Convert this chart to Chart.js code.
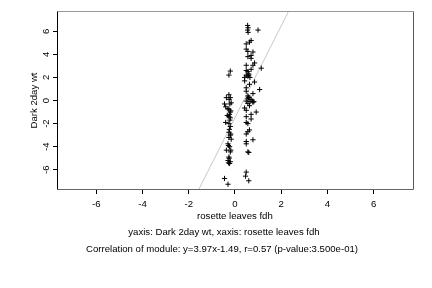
<!DOCTYPE html>
<html><head><meta charset="utf-8">
<script src="https://cdn.jsdelivr.net/npm/chart.js@4/dist/chart.umd.min.js"></script>
<style>html,body{margin:0;padding:0;background:#fff}#wrap{width:432px;height:288px}</style>
</head><body><div id="wrap"><canvas id="c" width="432" height="288"></canvas></div>
<script>
const xTicks = [-6, -4, -2, 0, 2, 4, 6];
const yTicks = [-6, -4, -2, 0, 2, 4, 6];
const xVals = [0.55,0.57,0.55,0.57,1.0,0.7,0.63,0.49,0.49,0.56,0.78,0.7,0.56,0.7,0.85,0.78,0.49,1.14,0.7,0.49,0.56,0.6,0.49,0.56,0.42,0.6,0.65,0.42,0.85,0.63,0.49,1.07,0.49,0.78,0.56,0.6,0.56,0.7,0.49,0.78,0.65,0.56,0.63,0.42,0.49,0.92,0.7,0.49,0.7,0.49,0.56,0.63,0.56,0.49,0.78,0.49,0.49,0.56,0.6,0.49,0.46,0.6,0.75,0.82,0.6,
 -0.2,-0.26,-0.26,-0.37,-0.2,-0.25,-0.16,-0.22,-0.4,-0.26,-0.2,-0.24,-0.26,-0.2,-0.22,-0.4,-0.26,-0.2,-0.24,-0.26,-0.2,-0.26,-0.16,-0.3,-0.23,-0.37,-0.2,-0.26,-0.3,-0.23,-0.2,-0.28,-0.45,-0.3,-0.18,-0.3,-0.18,-0.28,-0.18,-0.25,-0.33,-0.45];
const yVals = [6.5,6.3,6.1,5.9,6.1,5.2,5.05,4.9,4.45,4.25,4.2,3.9,3.8,3.65,3.25,3.05,3.05,2.8,2.7,2.6,2.5,2.3,2.2,2.1,2.0,2.2,2.0,1.7,1.6,1.4,1.1,0.95,0.8,0.6,0.4,0.25,0.15,0.1,-0.05,-0.15,-0.1,-0.25,-0.45,-0.65,-0.85,-1.0,-1.2,-1.4,-1.6,-1.9,-2.0,-2.55,-2.7,-2.9,-3.4,-3.55,-3.75,-4.45,-4.5,-6.2,-6.55,-6.95,-0.05,-0.1,0.3,
 2.55,2.2,0.5,0.25,0.25,0.1,-0.2,-0.3,-0.55,-0.8,-1.0,-1.2,-1.4,-1.5,-1.7,-1.9,-2.0,-2.25,-2.5,-2.75,-3.0,-3.2,-3.35,-3.75,-4.0,-4.3,-4.45,-4.9,-5.2,-5.45,-5.3,-5.4,-6.75,-7.25,-0.9,-0.7,-2.9,-3.9,-4.3,-5.0,-1.3,-0.3];
const slope = 3.97, intercept = -1.49;
const xRange = [-7.7, 7.75], yRange = [-7.75, 7.75];
const xLabel = 'rosette leaves fdh';
const yLabel = 'Dark 2day wt';
const caption1 = 'yaxis: Dark 2day wt, xaxis: rosette leaves fdh';
const caption2 = 'Correlation of module: y=3.97x-1.49, r=0.57 (p-value:3.500e-01)';

const pts = xVals.map((x, i) => ({x, y: yVals[i]}));
const linePts = xRange.map(x => ({x, y: slope * x + intercept}));
const FAM = '"Liberation Sans", Arial, sans-serif';
const FONT = '9.6px ' + FAM;

const deco = {
  id: 'deco',
  afterDraw(chart) {
    const ctx = chart.ctx, a = chart.chartArea, ys = chart.scales.y;
    ctx.save();
    ctx.lineWidth = 1;
    const L = Math.round(a.left) + 0.5, R = Math.round(a.right) - 0.5, T = Math.round(a.top) + 0.5, B = Math.round(a.bottom) - 0.5;
    ctx.strokeStyle = '#999'; ctx.beginPath(); ctx.moveTo(L, T); ctx.lineTo(R, T); ctx.stroke();
    ctx.strokeStyle = '#555'; ctx.beginPath(); ctx.moveTo(R, T); ctx.lineTo(R, B); ctx.stroke();
    ctx.strokeStyle = '#666'; ctx.beginPath(); ctx.moveTo(L, B); ctx.lineTo(R, B); ctx.stroke();
    ctx.strokeStyle = '#000'; ctx.beginPath(); ctx.moveTo(L, T); ctx.lineTo(L, B); ctx.stroke();
    ctx.fillStyle = '#000';
    ctx.font = FONT;
    ctx.textAlign = 'center'; ctx.textBaseline = 'middle';
    yTicks.forEach(v => {
      const py = ys.getPixelForValue(v);
      ctx.save(); ctx.translate(46, py); ctx.rotate(-Math.PI / 2); ctx.fillText(String(v), 0, 0); ctx.restore();
    });
    ctx.save(); ctx.translate(34, (a.top + a.bottom) / 2); ctx.rotate(-Math.PI / 2); ctx.fillText(yLabel, 0, 0); ctx.restore();
    ctx.fillText(xLabel, chart.scales.x.getPixelForValue(0), 216);
    ctx.fillText(caption1, 224, 232);
    ctx.fillText(caption2, 222, 249);
    ctx.restore();
  }
};

new Chart(document.getElementById('c'), {
  type: 'scatter',
  data: {
    datasets: [
      {type: 'line', data: linePts, borderColor: '#c8c8c8', borderWidth: 1, pointRadius: 0, fill: false, order: 2},
      {data: pts, pointStyle: 'cross', pointRadius: 2.6, borderColor: '#000', backgroundColor: '#000', pointBorderWidth: 1, order: 1}
    ]
  },
  options: {
    responsive: false, animation: false, devicePixelRatio: 1,
    layout: {padding: {top: 11, right: 18, left: 0, bottom: 0}},
    plugins: {legend: {display: false}, tooltip: {enabled: false}},
    scales: {
      x: {
        type: 'linear', min: xRange[0], max: xRange[1],
        afterBuildTicks: s => { s.ticks = xTicks.map(v => ({value: v})); },
        afterFit: s => { s.height = 98; },
        border: {display: false},
        grid: {drawOnChartArea: false, drawTicks: true, tickLength: 4, color: '#000'},
        ticks: {color: '#000', font: {family: FAM, size: 9.6}, padding: 5, maxRotation: 0}
      },
      y: {
        type: 'linear', min: yRange[0], max: yRange[1],
        afterBuildTicks: s => { s.ticks = yTicks.map(v => ({value: v})); },
        afterFit: s => { s.width = 57; },
        border: {display: false},
        grid: {drawOnChartArea: false, drawTicks: true, tickLength: 4, color: '#000'},
        ticks: {color: 'rgba(0,0,0,0)', font: {size: 9}}
      }
    }
  },
  plugins: [deco]
});
</script></body></html>
